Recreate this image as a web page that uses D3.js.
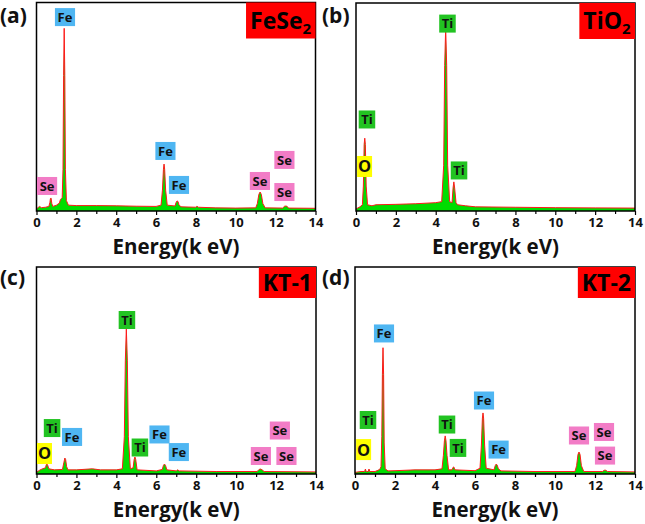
<!DOCTYPE html>
<html><head><meta charset="utf-8">
<script src="https://cdn.jsdelivr.net/npm/d3@7"></script>
<style>body{margin:0;background:#fff}svg{display:block}text{font-family:"Open Sans",Arial,sans-serif}</style>
</head><body><svg id="c" width="645" height="524"></svg>
<script>
// ---- data (energy keV, relative counts 0-100) ----
const energyTicks = [0, 2, 4, 6, 8, 10, 12, 14];
const panelLetters = ["(a)", "(b)", "(c)", "(d)"];
const sampleNames = [["FeSe", "2"], ["TiO", "2"], ["KT-1", ""], ["KT-2", ""]];

const spectrumA = [[0.00,1.0],[0.15,2.2],[0.25,1.6],[0.45,1.8],[0.62,2.2],[0.67,4.0],[0.70,6.0],[0.73,6.2],[0.77,3.5],[0.82,2.2],[1.00,2.8],[1.15,3.8],[1.20,5.5],[1.25,6.0],[1.29,6.5],[1.33,20],[1.36,65],[1.39,87.6],[1.42,65],[1.45,20],[1.50,5],[1.60,2.8],[2.0,2.6],[3.0,2.6],[4.0,2.5],[5.0,2.3],[6.0,2.2],[6.25,2.8],[6.32,10],[6.37,20],[6.40,22.5],[6.43,20],[6.48,10],[6.56,2.8],[6.95,2.4],[7.00,4.0],[7.05,4.8],[7.10,4.6],[7.15,3],[7.25,2],[8.0,1.8],[8.05,2.3],[8.12,1.8],[9.0,1.5],[10.0,1.4],[11.0,1.5],[11.08,3.5],[11.16,8.0],[11.22,9.1],[11.28,8.0],[11.36,3.5],[11.48,1.5],[12.35,1.4],[12.45,2.3],[12.55,2.4],[12.65,1.4],[14.0,1.3]];
const spectrumB = [[0.0,1.0],[0.2,2],[0.32,3],[0.37,12],[0.41,32],[0.44,35],[0.47,32],[0.51,12],[0.58,3],[0.8,2.5],[1.0,3],[2.0,3.2],[3.0,3.5],[4.0,4.0],[4.30,4.5],[4.40,22],[4.45,70],[4.50,88],[4.55,70],[4.60,22],[4.70,4.5],[4.82,4],[4.87,11],[4.91,14],[4.95,11],[5.02,4],[5.1,3],[5.5,2.5],[6,2.0],[8,1.8],[10,1.6],[12,1.5],[14,1.4]];
const spectrumC = [[0.0,0.8],[0.15,1.8],[0.3,2.5],[0.45,3],[0.49,4.5],[0.52,4.8],[0.55,4.5],[0.62,2.5],[0.9,2.0],[1.3,2.2],[1.37,5.5],[1.42,7.7],[1.46,7.0],[1.51,3.5],[1.58,2],[2.0,2],[2.8,2.5],[3.2,2],[4.0,2],[4.3,2.5],[4.40,18],[4.45,55],[4.50,70],[4.55,55],[4.60,18],[4.70,2.5],[4.84,3],[4.89,7],[4.93,8.2],[4.97,7],[5.04,2],[6.0,1.5],[6.30,2.2],[6.36,4.2],[6.41,4.8],[6.46,4.2],[6.53,2],[7.0,1.5],[7.07,2],[7.15,1.5],[9,1.2],[11.05,1.2],[11.15,2.2],[11.22,2.4],[11.30,2.0],[11.40,1.2],[14.0,1.0]];
const spectrumD = [[0.0,0.8],[0.3,1.2],[0.48,1.2],[0.52,2.4],[0.56,1.2],[0.66,1.2],[0.70,2.4],[0.74,1.2],[1.0,1.2],[1.20,2.0],[1.25,2.5],[1.30,3.5],[1.34,18],[1.37,48],[1.40,61],[1.43,48],[1.46,15],[1.51,2.5],[1.65,1.5],[2.0,1.6],[3.0,2.0],[4.0,2.0],[4.35,2.5],[4.42,9],[4.47,16],[4.51,18.4],[4.55,16],[4.60,9],[4.68,2],[4.85,2],[4.90,3.2],[4.94,3.4],[5.0,2],[6.0,1.6],[6.25,2.8],[6.32,14],[6.37,27],[6.40,29.5],[6.43,27],[6.48,14],[6.56,2.8],[6.95,2],[7.01,4.0],[7.06,4.8],[7.11,4.3],[7.17,2.5],[7.3,1.5],[9,1.2],[11.0,1.2],[11.08,4.0],[11.15,9.5],[11.20,10.6],[11.25,9.5],[11.32,4.0],[11.44,1.2],[12.38,1.2],[12.46,1.8],[12.54,1.8],[12.62,1.2],[14,1.0]];

// element annotations: [element, energy, counts] (anchor = label centre in data units)
const labelsA = [["Fe",1.43,93.0],["Se",0.53,12.0],["Fe",6.47,28.8],["Fe",7.15,12.5],["Se",11.21,14.4],["Se",12.44,24.5],["Se",12.44,9.1]];
const labelsB = [["Ti",4.59,90.1],["Ti",0.55,44.0],["O",0.43,21.4],["Ti",5.17,19.5]];
const labelsC = [["Ti",4.53,74.4],["Ti",0.78,22.2],["Fe",1.78,17.9],["O",0.40,9.9],["Ti",5.18,12.8],["Fe",6.16,19.1],["Fe",7.13,10.6],["Se",12.19,21.0],["Se",11.24,8.7],["Se",12.52,8.7]];
const labelsD = [["Fe",1.45,67.9],["Ti",0.65,26.1],["O",0.43,11.8],["Ti",4.60,23.9],["Ti",5.15,12.6],["Fe",6.45,35.5],["Fe",7.18,11.8],["Se",11.20,18.6],["Se",12.45,20.3],["Se",12.5,8.9]];

// ---- layout & style ----
const elementColor = {Fe:"#4fb6f2", Se:"#f27cc6", Ti:"#22c322", O:"#ffff00"};
const panels = [
  {spec:spectrumA, labels:labelsA, l:36.5, r:315.5, t:2.5, b:211, ox:0, oy:0},
  {spec:spectrumB, labels:labelsB, l:356, r:635, t:3, b:211, ox:322, oy:0},
  {spec:spectrumC, labels:labelsC, l:36.5, r:316, t:267, b:474, ox:0, oy:262},
  {spec:spectrumD, labels:labelsD, l:355, r:635, t:267, b:474, ox:322, oy:262}
];

const svg = d3.select("#c");
panels.forEach((p, i) => {
  const x = d3.scaleLinear().domain([0,14]).range([p.l, p.r]);
  const y = d3.scaleLinear().domain([0,100]).range([p.b, p.t]);
  const g = svg.append("g");

  const area = d3.area().x(d => x(d[0])).y0(p.b).y1(d => y(d[1]));
  const line = d3.line().x(d => x(d[0])).y(d => y(d[1]));
  g.append("path").datum(p.spec).attr("d", area).attr("fill", "#00dd00");
  g.append("path").datum(p.spec).attr("d", line).attr("fill", "none")
    .attr("stroke", "#ff1a1a").attr("stroke-width", 1.0).attr("stroke-linejoin","round");

  // frame
  g.append("rect").attr("x", p.l).attr("y", p.t).attr("width", p.r - p.l).attr("height", p.b - p.t)
    .attr("fill", "none").attr("stroke", "#000").attr("stroke-width", 1.5);

  // minor ticks
  const minor = d3.axisBottom(x).tickValues(d3.range(1,14,2)).tickSize(3).tickFormat("");
  const gm = g.append("g").attr("transform", `translate(0,${p.b})`).call(minor);
  gm.select(".domain").remove();
  gm.selectAll("line").attr("stroke-width", 1.2);
  const major = d3.axisBottom(x).tickValues(energyTicks).tickSize(4).tickPadding(3).tickFormat(d3.format("d"));
  const ga = g.append("g").attr("transform", `translate(0,${p.b})`).call(major);
  ga.select(".domain").remove();
  ga.selectAll("line").attr("stroke-width", 1.2);
  ga.selectAll("text").attr("font-size", 13).attr("font-weight", "bold").attr("fill", "#111")
    .attr("font-family", '"Open Sans",Arial,sans-serif');

  // axis title
  g.append("text").attr("x", (p.l + p.r) / 2).attr("y", p.b + 43).attr("text-anchor", "middle")
    .attr("font-size", 20.5).attr("font-weight", "bold").attr("fill", "#111").text("Energy(k eV)");

  // panel letter
  g.append("text").attr("x", p.ox).attr("y", p.oy + 23).attr("font-size", 21).attr("font-weight", "bold")
    .attr("fill", "#111").text(panelLetters[i]);

  // sample name box
  const tg = g.append("g");
  const trect = tg.append("rect").attr("fill", "#ff0000");
  const tn = tg.append("text").attr("x", 0).attr("y", 0).attr("font-size", 23).attr("font-weight", "bold").attr("fill", "#000");
  tn.append("tspan").text(sampleNames[i][0]);
  if (sampleNames[i][1]) tn.append("tspan").attr("font-size", 15).attr("dy", 5).text(sampleNames[i][1]);
  const bb = tn.node().getBBox();
  const padX = 4;
  const bw = bb.width + 2 * padX;
  const bh = i < 2 ? 36 : 31;
  trect.attr("x", p.r - bw).attr("y", p.t).attr("width", bw).attr("height", bh);
  tn.attr("x", p.r - bw + padX).attr("y", p.t + (i < 2 ? 26 : 24));

  // element labels
  p.labels.forEach(([el, e, c]) => {
    const cx = x(e), cy = y(c);
    const isO = el === "O";
    const fs = isO ? 16.5 : 13;
    const lg = g.append("g");
    const r = lg.append("rect").attr("fill", elementColor[el]);
    const t = lg.append("text").attr("x", cx).attr("y", cy + fs * 0.36).attr("text-anchor", "middle")
      .attr("font-size", fs).attr("font-weight", "bold").attr("fill", "#111").text(el);
    const b2 = t.node().getBBox();
    const w = isO ? 15 : Math.max(b2.width + 5, 16);
    const h = isO ? 21 : 18;
    r.attr("x", cx - w / 2).attr("y", cy - h / 2).attr("width", w).attr("height", h);
  });
});
</script></body></html>
